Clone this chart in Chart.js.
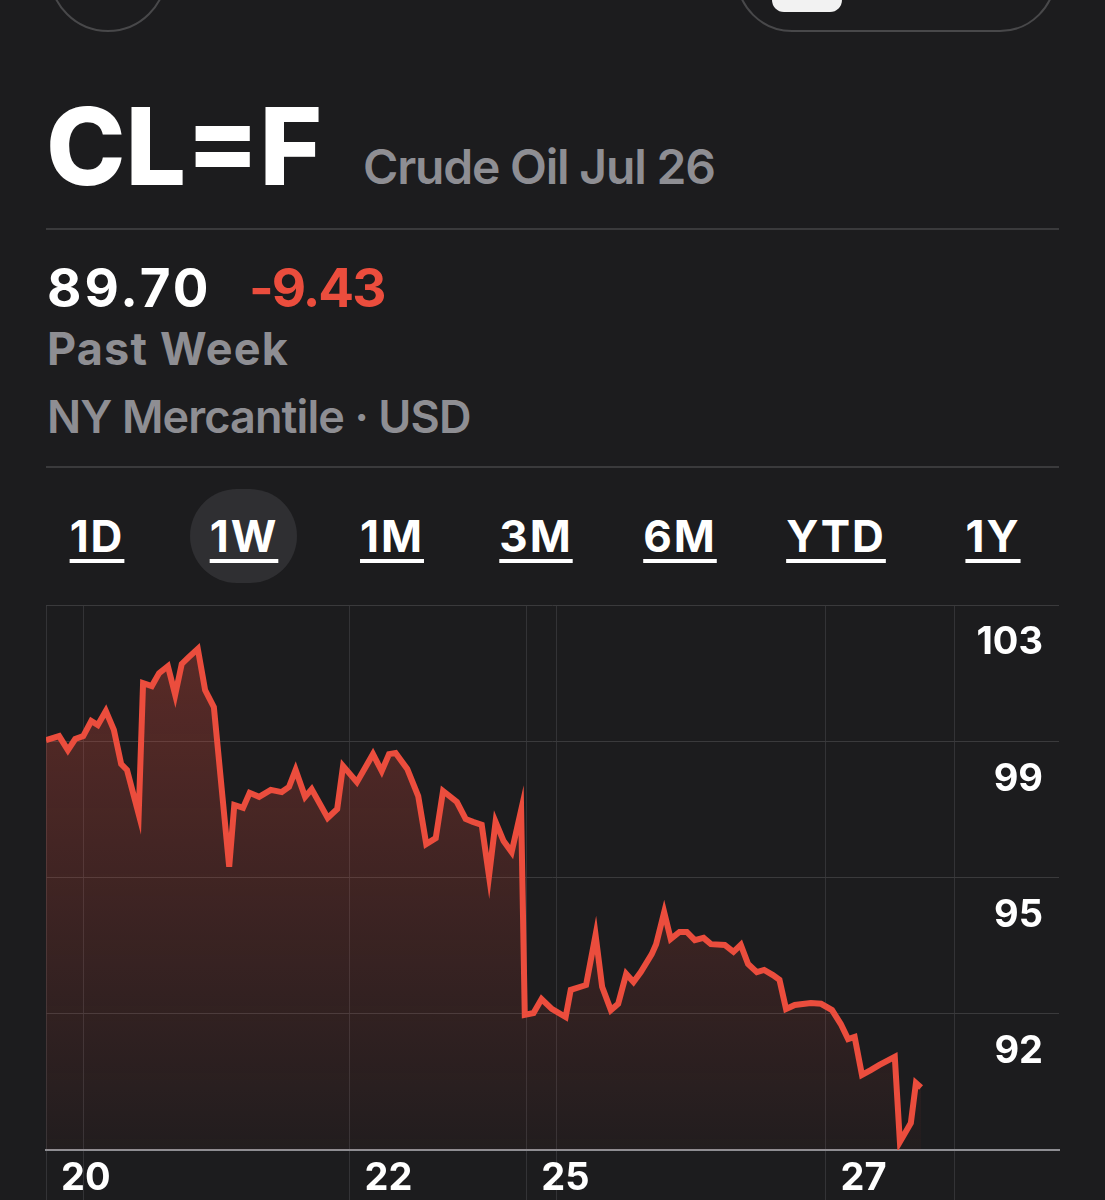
<!DOCTYPE html>
<html>
<head>
<meta charset="utf-8">
<script src="https://cdn.jsdelivr.net/npm/chart.js@4/dist/chart.umd.min.js"></script>
<style>
  html, body { margin: 0; padding: 0; background: #1c1c1e; width: 1105px; height: 1200px; overflow: hidden; }
  body { position: relative; font-family: Inter, "Noto Sans", sans-serif; color: #fff; }
  .abs { position: absolute; line-height: 1; white-space: nowrap; }
  .circle { position: absolute; left: 49px; top: -86px; width: 114px; height: 114px; border: 2px solid #48484a; border-radius: 50%; }
  .pillbtn { position: absolute; left: 736px; top: -100px; width: 316px; height: 128px; border: 2px solid #48484a; border-radius: 56px; }
  .knob { position: absolute; left: 772px; top: -40px; width: 70px; height: 52px; background: #f2f2f2; border-radius: 12px; }
  .rule { position: absolute; left: 46px; width: 1013px; height: 2px; background: #3a3a3c; }
  .tab { position: absolute; top: 514px; width: 160px; text-align: center; font-size: 44px; font-weight: 700; line-height: 1;
         letter-spacing: 2px; text-decoration: underline; text-decoration-thickness: 4px; text-underline-offset: 7px; }
  .sel { position: absolute; left: 190px; top: 489px; width: 107px; height: 94px; border-radius: 47px; background: #2f2f32; }
  #wrap { position: absolute; left: 0; top: 590px; width: 1105px; height: 610px; }
</style>
</head>
<body>
<div class="circle"></div>
<div class="pillbtn"></div>
<div class="knob"></div>

<div class="abs" style="left:46px; top:93px; font-size:107px; font-weight:800;">CL=F</div>
<div class="abs" style="left:363px; top:143px; font-size:48px; font-weight:600; color:#8e8e93; letter-spacing:-1.2px;">Crude Oil Jul 26</div>
<div class="rule" style="top:228px;"></div>

<div class="abs" style="left:47px; top:262px; font-size:53px; font-weight:700; letter-spacing:3px;">89.70</div>
<div class="abs" style="left:249px; top:262px; font-size:53px; font-weight:700; color:#eb4d3d; letter-spacing:-2px;">-9.43</div>
<div class="abs" style="left:47px; top:326px; font-size:45px; font-weight:700; color:#8e8e93; letter-spacing:1.2px;">Past Week</div>
<div class="abs" style="left:47px; top:394px; font-size:45px; font-weight:600; color:#8e8e93; letter-spacing:-0.9px;">NY Mercantile · USD</div>
<div class="rule" style="top:466px;"></div>

<div class="sel"></div>
<div id="tabs"></div>

<div id="wrap"><canvas id="chart"></canvas></div>

<script>
// ranges shown above the chart, with the centre of each button
const tabs = ['1D', '1W', '1M', '3M', '6M', 'YTD', '1Y'];
const tabCentres = [97, 244, 392, 536, 680, 836, 993];

// trading hours since the start of the week, and the price at each
const hours = [
  0, 1.8, 3.0, 4.0, 5.1, 6.2, 7.1, 8.2, 9.3, 10.3, 11.1, 12.7, 13.3, 14.5, 15.5, 16.7, 17.7, 18.6, 19.6, 20.8,
  21.8, 23.0, 25.1, 25.8, 27.0, 27.9, 29.2, 30.8, 32.3, 33.3, 34.2, 35.5, 36.4, 38.6, 39.9, 40.7, 42.6, 44.8, 46.0, 47.0,
  47.9, 49.5, 51.0, 52.1, 53.4, 54.4, 56.3, 57.5, 58.5, 59.7, 60.7, 61.6, 62.7, 63.8, 65.1, 65.6, 66.8, 67.9, 69.3, 71.2,
  71.9, 74.0, 75.3, 76.2, 77.4, 78.4, 79.5, 80.5, 81.5, 83.0, 83.6, 84.7, 85.6, 86.8, 87.8, 88.9, 90.1, 91.1, 93.0, 94.2,
  95.2, 96.2, 97.4, 98.4, 99.6, 100.5, 101.4, 102.6, 104.8, 106.2, 107.7, 108.9, 109.9, 110.8, 111.8, 113.0, 114.2, 116.3, 117.0, 118.5,
  119.2, 119.9
];
const prices = [
  99.13, 99.24, 98.86, 99.16, 99.24, 99.65, 99.54, 99.92, 99.41, 98.48, 98.32, 97.12, 100.68, 100.60, 100.95, 101.14, 100.36, 101.20, 101.39, 101.61,
  100.49, 100.03, 95.69, 97.37, 97.29, 97.70, 97.59, 97.78, 97.72, 97.86, 98.32, 97.59, 97.80, 97.02, 97.26, 98.43, 97.99, 98.75, 98.29, 98.75,
  98.78, 98.35, 97.61, 96.31, 96.47, 97.75, 97.45, 96.99, 96.91, 96.83, 95.44, 96.91, 96.39, 96.09, 97.23, 91.67, 91.72, 92.10, 91.83, 91.61,
  92.35, 92.48, 93.84, 92.43, 91.80, 91.97, 92.78, 92.56, 92.83, 93.32, 93.59, 94.46, 93.73, 93.92, 93.92, 93.70, 93.76, 93.59, 93.57, 93.38,
  93.57, 93.05, 92.83, 92.89, 92.75, 92.62, 91.83, 91.94, 91.99, 91.97, 91.80, 91.42, 91.01, 91.07, 90.04, 90.17, 90.31, 90.53, 88.22, 88.73,
  89.82, 89.70
];

// price grid lines and the rounded labels written under them
const yTicks = [88.0, 91.7, 95.4, 99.1, 102.8];
const yTickLabels = ['', '92', '95', '99', '103'];

// session lines on the time axis and the day labels
const xGrid = [0, 5.1, 41.6, 65.8, 70.0, 106.8, 124.5];
const xGridLabels = ['20', '', '22', '25', '', '27', ''];
const xEnd = 138.8;

const tabBox = document.getElementById('tabs');
tabs.forEach((t, i) => {
  const d = document.createElement('div');
  d.className = 'tab';
  d.style.left = (tabCentres[i] - 80) + 'px';
  d.textContent = t;
  tabBox.appendChild(d);
});

const RED = '#eb4d3d';
const labelFont = { family: 'Inter', size: 38, weight: 'bold' };

new Chart(document.getElementById('chart'), {
  type: 'line',
  data: {
    datasets: [{
      data: hours.map((h, i) => ({ x: h, y: prices[i] })),
      borderColor: RED,
      borderWidth: 6,
      pointRadius: 0,
      tension: 0,
      fill: 'start',
      backgroundColor: (ctx) => {
        const area = ctx.chart.chartArea;
        if (!area) return null;
        const g = ctx.chart.ctx.createLinearGradient(0, area.top, 0, area.bottom);
        g.addColorStop(0, 'rgba(235,77,61,0.32)');
        g.addColorStop(1, 'rgba(235,77,61,0.03)');
        return g;
      }
    }]
  },
  options: {
    responsive: true,
    maintainAspectRatio: false,
    animation: false,
    layout: { padding: { left: 46, right: 46, top: 15, bottom: 0 } },
    scales: {
      x: {
        type: 'linear',
        min: 0,
        max: xEnd,
        afterBuildTicks: (s) => { s.ticks = xGrid.map(v => ({ value: v })); },
        afterFit: (s) => { s.height = 50; },
        ticks: {
          callback: (v, i) => xGridLabels[i],
          autoSkip: false,
          maxRotation: 0,
          align: 'start',
          labelOffset: 15,
          padding: -44,
          color: '#fff',
          font: labelFont
        },
        grid: { color: '#333336', lineWidth: 1, drawTicks: true, tickLength: 50 },
        border: { display: true, color: '#8e8e93', width: 2 }
      },
      y: {
        type: 'linear',
        position: 'right',
        min: yTicks[0],
        max: yTicks[yTicks.length - 1],
        afterBuildTicks: (s) => { s.ticks = yTicks.map(v => ({ value: v })); },
        afterFit: (s) => { s.width = 0; },
        ticks: {
          callback: (v, i) => yTickLabels[i],
          mirror: true,
          padding: -16,
          labelOffset: 38,
          color: '#fff',
          font: labelFont
        },
        grid: { color: '#3a3a3c', lineWidth: 1, drawTicks: false },
        border: { display: false }
      }
    },
    plugins: {
      legend: { display: false },
      tooltip: { enabled: false }
    }
  }
});
</script>
</body>
</html>
